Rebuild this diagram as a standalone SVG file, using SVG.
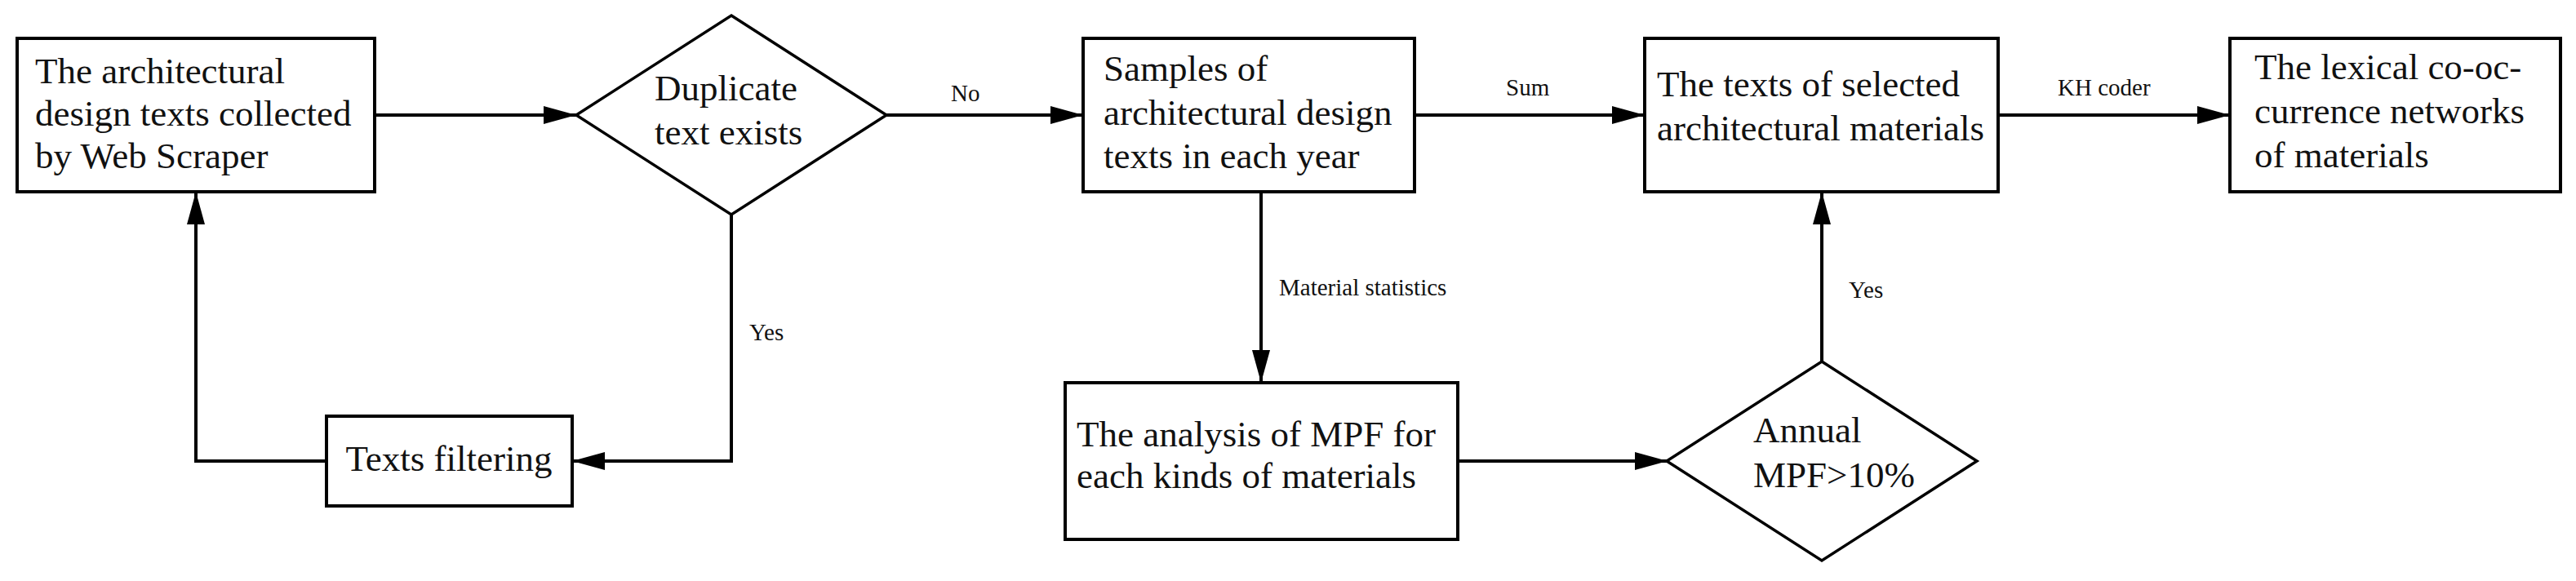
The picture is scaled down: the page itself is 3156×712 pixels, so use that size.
<svg xmlns="http://www.w3.org/2000/svg" width="3156" height="712" viewBox="0 0 3156 712">
<style>
.box{fill:#fff;stroke:#000;stroke-width:4}
.dia{fill:#fff;stroke:#000;stroke-width:3.5}
.t{font-family:"Liberation Serif","Times New Roman",serif;font-size:45px;fill:#111}
.lbl{font-family:"Liberation Serif","Times New Roman",serif;font-size:29px;fill:#111}
.ln{fill:none;stroke:#000;stroke-width:4;marker-end:url(#ah)}
.ln2{fill:none;stroke:#000;stroke-width:4}
</style>
<defs>
<marker id="ah" markerUnits="userSpaceOnUse" markerWidth="40" markerHeight="22" refX="40" refY="11" orient="auto">
<path d="M0,0 L40,11 L0,22 Z" fill="#000"/>
</marker>
</defs>
<rect width="3156" height="712" fill="#fff"/>
<g id="connectors">
<path class="ln" d="M459,141 H706"/>
<path class="ln" d="M1086,141 H1327"/>
<path class="ln" d="M1733,141 H2015"/>
<path class="ln" d="M2448,141 H2732"/>
<path class="ln" d="M896,263 V565 H701"/>
<path class="ln" d="M400,565 H240 V235"/>
<path class="ln" d="M1545,235 V469"/>
<path class="ln" d="M1786,565 H2043"/>
<path class="ln" d="M2232,443 V235"/>
<text class="lbl" x="1165" y="124">No</text>
<text class="lbl" x="1845" y="117">Sum</text>
<text class="lbl" x="2521" y="117">KH coder</text>
<text class="lbl" x="918" y="417">Yes</text>
<text class="lbl" x="1567" y="362">Material statistics</text>
<text class="lbl" x="2265" y="365">Yes</text>
</g>
<g id="n1">
<rect class="box" x="21" y="47" width="438" height="188"/>
<text class="t" x="43" y="102">The architectural</text>
<text class="t" x="43" y="154">design texts collected</text>
<text class="t" x="43" y="206">by Web Scraper</text>
</g>
<g id="n2">
<polygon class="dia" points="896,19 1086,141 896,263 706,141"/>
<text class="t" x="802" y="123">Duplicate</text>
<text class="t" x="802" y="177">text exists</text>
</g>
<g id="n3">
<rect class="box" x="1327" y="47" width="406" height="188"/>
<text class="t" x="1352" y="99">Samples of</text>
<text class="t" x="1352" y="153">architectural design</text>
<text class="t" x="1352" y="206">texts in each year</text>
</g>
<g id="n4">
<rect class="box" x="2015" y="47" width="433" height="188"/>
<text class="t" x="2030" y="118">The texts of selected</text>
<text class="t" x="2030" y="172">architectural materials</text>
</g>
<g id="n5">
<rect class="box" x="2732" y="47" width="405" height="188"/>
<text class="t" x="2762" y="97">The lexical co-oc-</text>
<text class="t" x="2762" y="151">currence networks</text>
<text class="t" x="2762" y="205">of materials</text>
</g>
<g id="n6">
<rect class="box" x="400" y="510" width="301" height="110"/>
<text class="t" x="550" y="577" text-anchor="middle">Texts filtering</text>
</g>
<g id="n7">
<rect class="box" x="1305" y="469" width="481" height="192"/>
<text class="t" x="1319" y="547">The analysis of MPF for</text>
<text class="t" x="1319" y="598">each kinds of materials</text>
</g>
<g id="n8">
<polygon class="dia" points="2232,443 2422,565 2232,687 2042,565"/>
<text class="t" x="2148" y="542">Annual</text>
<text class="t" x="2148" y="597">MPF&gt;10%</text>
</g>
</svg>
